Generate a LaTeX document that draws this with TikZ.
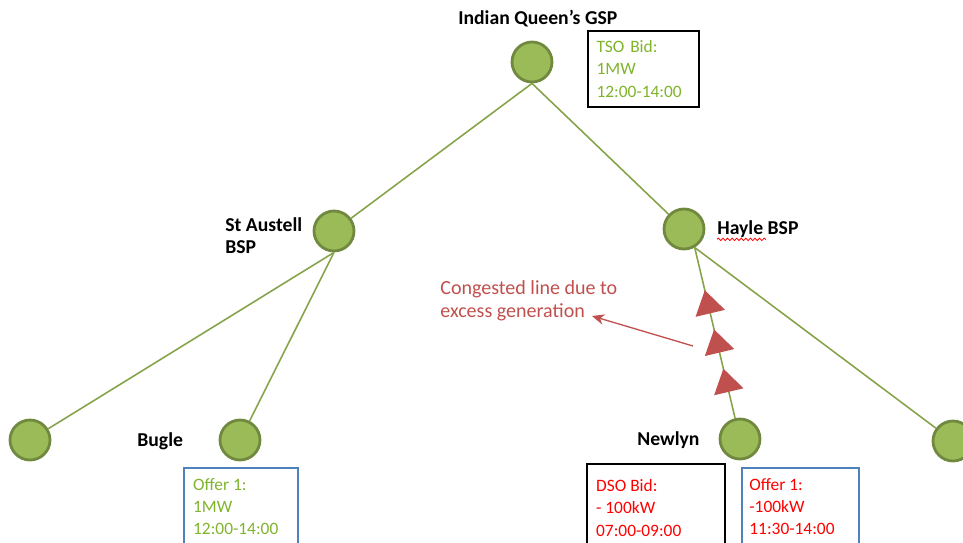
\documentclass[tikz,border=0pt]{standalone}
\usepackage{fontspec}
\setmainfont{Carlito}
\usetikzlibrary{arrows.meta,calc,decorations.markings,decorations.pathmorphing}

\definecolor{busfill}{HTML}{9BBB59}
\definecolor{busedge}{HTML}{71893F}
\definecolor{feedergreen}{HTML}{86A34A}
\definecolor{bidgreen}{HTML}{7FB42C}
\definecolor{bidred}{HTML}{FF0000}
\definecolor{notered}{HTML}{C0504D}
\definecolor{offerblue}{HTML}{4F81BD}

\newcommand{\boxfont}{\fontsize{9.9}{12.75}\selectfont}

\tikzset{
    bus/.style={circle, draw=busedge, fill=busfill, line width=1.6pt, minimum size=0.8cm, inner sep=0pt},
    feeder/.style={draw=feedergreen, line width=0.9pt},
    busname/.style={font=\fontsize{11.2}{12.5}\selectfont\bfseries, inner sep=0pt},
    bidbox/.style={anchor=north west, align=left, inner xsep=5pt, inner ysep=5.5pt, font=\boxfont},
    offerline/.style={draw=offerblue, line width=0.7pt},
    bidline/.style={draw=black, line width=0.9pt},
    note/.style={font=\fontsize{11.4}{13}\selectfont, text=notered, align=left, inner sep=0pt},
    notearrow/.style={draw=notered, line width=0.75pt, -{Stealth[length=7pt, width=6pt]}},
    spellmark/.style={draw=red, line width=0.45pt, decorate, decoration={snake, amplitude=0.7pt, segment length=2.6pt}},
    congested/.style={postaction={decorate}, decoration={markings,
        mark=between positions 0.21 and 0.67 step 0.23 with {\fill[notered] (8pt, 0) -- (-5.5pt, 8.6pt) -- (-5.5pt, -8.6pt) -- cycle;}}}
}

\begin{document}
\begin{tikzpicture}[x=0.02cm, y=-0.02cm]
        \clip (0, 0) rectangle (963, 542);

        \node[bus] (gsp) at (532, 62) {};
        \node[bus] (staustell) at (334, 231) {};
        \node[bus] (hayle) at (684, 229) {};
        \node[bus] (westleaf) at (30, 440) {};
        \node[bus] (bugle) at (240, 440) {};
        \node[bus] (newlyn) at (740, 439) {};
        \node[bus] (eastleaf) at (953, 441) {};

        \draw[feeder] (gsp.south) to (staustell);
        \draw[feeder] (gsp.south) to (hayle);
            \draw[feeder] (staustell.south) to (westleaf);
            \draw[feeder] (staustell.south) to (bugle);
            \draw[feeder, congested] (newlyn) to (hayle.-60);
            \draw[feeder] (hayle.-60) to (eastleaf);

        \node[busname, anchor=west] (gsplbl) at (458, 19) {Indian Queen’s GSP};
        \node[busname, anchor=west, align=left] (staustelllbl) at (225, 236) {St Austell\\BSP};
        \node[busname, anchor=west] (haylelbl) at (717, 229) {Hayle BSP};
        \node[busname, anchor=west] (buglelbl) at (137, 441) {Bugle};
        \node[busname, anchor=west] (newlynlbl) at (637, 440) {Newlyn};
        \draw[spellmark] ($(haylelbl.base west)+(0, 5)$) -- ++(49, 0);

        % congestion note
        \node[note, anchor=west] (cong) at (440, 301) {Congested line due to\\excess generation};
        \coordinate (cgtail) at (693, 346);
        \coordinate (cghead) at (592, 316);
        \draw[notearrow] (cgtail) to (cghead);

        % bids and offers
        \node[bidbox, bidline, text=bidgreen, text width=1.87cm] (tsobid) at (587, 30) {TSO Bid:\\1MW\\12:00-14:00};

        \node[bidbox, text=bidgreen] (bugleoffer) at (184, 468) {Offer 1:\\1MW\\12:00-14:00};
        \draw[offerline] (bugleoffer.north west) rectangle ++(114, 100);

        \node[bidbox, text=bidred, inner ysep=8.5pt] (dsobid) at (587, 464) {DSO Bid:\\- 100kW\\07:00-09:00};
        \draw[bidline] (dsobid.north west) rectangle ++(138, 100);

        \node[bidbox, text=bidred, inner xsep=4pt] (newlynoffer) at (742, 468) {Offer 1:\\-100kW\\11:30-14:00};
        \draw[offerline] (newlynoffer.north west) rectangle ++(117, 100);
\end{tikzpicture}
\end{document}
